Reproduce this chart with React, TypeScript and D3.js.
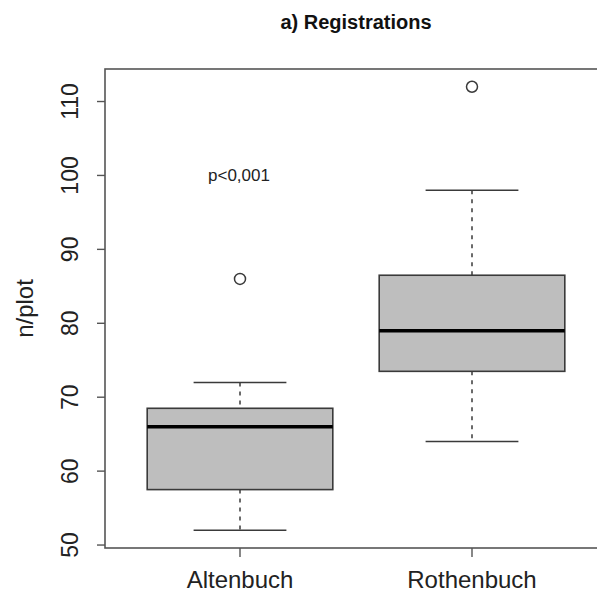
import React from "react";
import * as d3 from "d3";

const categories = ["Altenbuch", "Rothenbuch"];
const lowerWhisker = [52, 64];
const q1 = [57.5, 73.5];
const medians = [66, 79];
const q3 = [68.5, 86.5];
const upperWhisker = [72, 98];
const outliers = [[86], [112]];
const yTicks = [50, 60, 70, 80, 90, 100, 110];
const title = "a) Registrations";
const yLabel = "n/plot";
const annotation = "p<0,001";
const annotationValue = 100;

export default function App() {
  const W = 597, H = 592;
  const left = 105, right = 607, top = 69, bottom = 548;
  const y = d3.scaleLinear().domain([49.6, 114.4]).range([bottom, top]);
  const x = d3.scaleLinear().domain([1, 2]).range([240, 472]);
  const boxHalf = x(1.4) - x(1);
  const capHalf = boxHalf / 2;
  const font = "Liberation Sans, Arial, Helvetica, sans-serif";
  const lineCol = "#3a3a3a";
  return (
    <svg width={W} height={H} style={{ position: "absolute", left: 0, top: 0, background: "#fff" }} fontFamily={font}>
      <text x={356} y={29} textAnchor="middle" fontSize={20} fontWeight="bold" fill="#111">{title}</text>
      <rect x={left} y={top} width={right - left} height={bottom - top} fill="none" stroke="#555" strokeWidth={1.6} />
      {yTicks.map((t) => (
        <g key={t}>
          <line x1={left - 8} x2={left} y1={y(t)} y2={y(t)} stroke="#555" strokeWidth={1.4} />
          <text transform={`translate(${70},${y(t)}) rotate(-90)`} textAnchor="middle" dominantBaseline="central" fontSize={23} fill="#222">{t}</text>
        </g>
      ))}
      <text transform={`translate(24,${(top + bottom) / 2}) rotate(-90)`} textAnchor="middle" dominantBaseline="central" fontSize={24} fill="#222">{yLabel}</text>
      {categories.map((c, i) => (
        <g key={c}>
          <line x1={x(i + 1)} x2={x(i + 1)} y1={bottom} y2={bottom + 9} stroke="#555" strokeWidth={1.4} />
          <text x={x(i + 1)} y={588} textAnchor="middle" fontSize={24} fill="#222">{c}</text>
        </g>
      ))}
      {categories.map((c, i) => {
        const cx = x(i + 1);
        return (
          <g key={c + "box"}>
            <line x1={cx} x2={cx} y1={y(upperWhisker[i])} y2={y(q3[i])} stroke={lineCol} strokeWidth={1.5} strokeDasharray="4,5" />
            <line x1={cx} x2={cx} y1={y(q1[i])} y2={y(lowerWhisker[i])} stroke={lineCol} strokeWidth={1.5} strokeDasharray="4,5" />
            <line x1={cx - capHalf} x2={cx + capHalf} y1={y(upperWhisker[i])} y2={y(upperWhisker[i])} stroke={lineCol} strokeWidth={1.5} />
            <line x1={cx - capHalf} x2={cx + capHalf} y1={y(lowerWhisker[i])} y2={y(lowerWhisker[i])} stroke={lineCol} strokeWidth={1.5} />
            <rect x={cx - boxHalf} y={y(q3[i])} width={2 * boxHalf} height={y(q1[i]) - y(q3[i])} fill="#bebebe" stroke={lineCol} strokeWidth={1.6} />
            <line x1={cx - boxHalf} x2={cx + boxHalf} y1={y(medians[i])} y2={y(medians[i])} stroke="#000" strokeWidth={3.5} />
            {outliers[i].map((o, j) => (
              <circle key={j} cx={cx} cy={y(o)} r={5.5} fill="none" stroke={lineCol} strokeWidth={1.5} />
            ))}
          </g>
        );
      })}
      <text x={x(1) - 1} y={y(annotationValue)} textAnchor="middle" dominantBaseline="central" fontSize={17} fill="#222">{annotation}</text>
    </svg>
  );
}
